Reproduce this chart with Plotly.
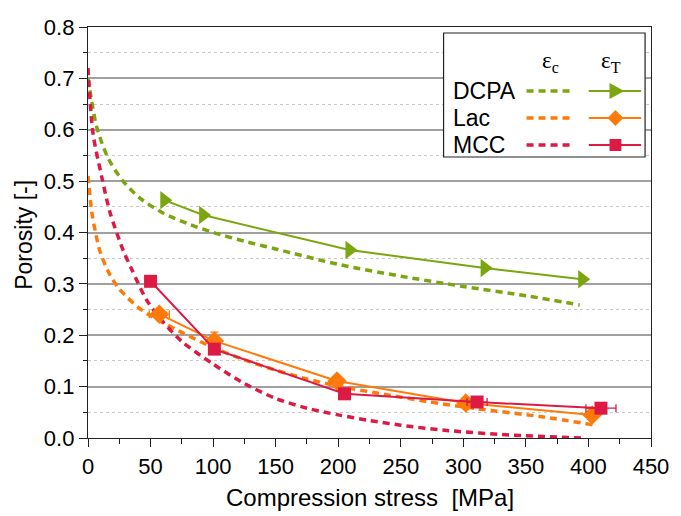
import plotly.graph_objects as go

# ---------------- data ----------------
dcpa_c_x = [0, 3, 7, 16, 28, 42, 60, 80, 100, 125, 150, 200, 250, 300, 350, 393]
dcpa_c_y = [0.70, 0.655, 0.605, 0.545, 0.500, 0.466, 0.438, 0.417, 0.400, 0.383, 0.368, 0.338, 0.315, 0.295, 0.277, 0.259]

lac_c_x = [0, 3, 6, 10, 17, 25, 43, 73, 100, 125, 150, 175, 200, 232, 271, 311, 364, 405]
lac_c_y = [0.51, 0.44, 0.40, 0.36, 0.32, 0.290, 0.249, 0.208, 0.176, 0.152, 0.132, 0.115, 0.101, 0.087, 0.071, 0.057, 0.041, 0.025]

mcc_c_x = [0, 4, 11, 17.5, 28, 35, 47, 60, 75, 100, 125, 150, 175, 200, 225, 250, 285, 337, 395]
mcc_c_y = [0.72, 0.593, 0.508, 0.440, 0.366, 0.328, 0.268, 0.226, 0.188, 0.144, 0.106, 0.077, 0.058, 0.045, 0.034, 0.025, 0.015, 0.006, 0.0]

dcpa_t_x = [61, 92, 209, 317, 395]
dcpa_t_y = [0.463, 0.434, 0.366, 0.331, 0.309]

lac_t_x = [57, 101, 199, 302, 403]
lac_t_y = [0.241, 0.189, 0.111, 0.068, 0.045]
lac_t_ex = [8, 3, 3, 3, 3]
lac_t_ey = [0.004, 0.017, 0.006, 0.005, 0.008]

mcc_t_x = [50, 101, 205, 311, 410]
mcc_t_y = [0.305, 0.173, 0.086, 0.070, 0.058]
mcc_t_ex = [2, 2, 3, 8, 12]
mcc_t_ey = [0.003, 0.004, 0.004, 0.004, 0.004]

x_ticks = [0, 50, 100, 150, 200, 250, 300, 350, 400, 450]
y_ticks = [0.0, 0.1, 0.2, 0.3, 0.4, 0.5, 0.6, 0.7, 0.8]

names = ["DCPA", "Lac", "MCC"]
colors = ["#7BA60F", "#FF7A0A", "#DC1A44"]
symbols = ["triangle-right", "diamond", "square"]

FONT = "Liberation Sans, Arial, sans-serif"

fig = go.Figure()

dash = "7px,5px"
for xs, ys, c in [(dcpa_c_x, dcpa_c_y, colors[0]), (lac_c_x, lac_c_y, colors[1]), (mcc_c_x, mcc_c_y, colors[2])]:
    fig.add_trace(go.Scatter(x=xs, y=ys, mode="lines", showlegend=False,
                             line=dict(color=c, width=3.5, dash=dash, shape="spline", smoothing=0.8)))

fig.add_trace(go.Scatter(x=dcpa_t_x, y=dcpa_t_y, mode="lines+markers", showlegend=False,
                         line=dict(color=colors[0], width=2),
                         marker=dict(symbol=symbols[0], size=16, color=colors[0])))
fig.add_trace(go.Scatter(x=lac_t_x, y=lac_t_y, mode="lines+markers", showlegend=False,
                         line=dict(color=colors[1], width=2),
                         marker=dict(symbol=symbols[1], size=15, color=colors[1]),
                         error_x=dict(type="data", array=lac_t_ex, color=colors[1], thickness=1.3, width=4),
                         error_y=dict(type="data", array=lac_t_ey, color=colors[1], thickness=1.3, width=4)))
fig.add_trace(go.Scatter(x=mcc_t_x, y=mcc_t_y, mode="lines+markers", showlegend=False,
                         line=dict(color=colors[2], width=2),
                         marker=dict(symbol=symbols[2], size=13, color=colors[2]),
                         error_x=dict(type="data", array=mcc_t_ex, color=colors[2], thickness=1.3, width=4),
                         error_y=dict(type="data", array=mcc_t_ey, color=colors[2], thickness=1.3, width=4)))

# ---------------- layout ----------------
L, R, T, B = 88, 23, 27, 78
W, H = 681, 516
PW, PH = W - L - R, H - T - B


def px(xp):
    return (xp - L) / PW


def py(yp):
    return (H - B - yp) / PH


shapes = []
annotations = []

# legend box
shapes.append(dict(type="rect", xref="paper", yref="paper", layer="above",
                   x0=px(448), x1=px(652), y0=py(157), y1=py(33),
                   fillcolor="white", line=dict(color="#222222", width=1.2)))

row_y = [91, 118, 145]
for i, (n, c, yy) in enumerate(zip(names, colors, row_y)):
    annotations.append(dict(xref="paper", yref="paper", x=px(456), y=py(yy), text=n,
                            showarrow=False, xanchor="left", yanchor="middle",
                            font=dict(family=FONT, size=23, color="black")))
    # dashed sample
    shapes.append(dict(type="line", xref="paper", yref="paper", layer="above",
                       x0=px(532), x1=px(580), y0=py(yy), y1=py(yy),
                       line=dict(color=c, width=3.5, dash=dash)))
    # solid sample
    shapes.append(dict(type="line", xref="paper", yref="paper", layer="above",
                       x0=px(595), x1=px(648), y0=py(yy), y1=py(yy),
                       line=dict(color=c, width=2)))
    cx, cy = 622, yy
    if i == 0:
        path = f"M {px(cx-6)} {py(cy-8)} L {px(cx+9)} {py(cy)} L {px(cx-6)} {py(cy+8)} Z"
    elif i == 1:
        path = f"M {px(cx)} {py(cy-8)} L {px(cx+8)} {py(cy)} L {px(cx)} {py(cy+8)} L {px(cx-8)} {py(cy)} Z"
    else:
        path = f"M {px(cx-6)} {py(cy-6)} L {px(cx+6)} {py(cy-6)} L {px(cx+6)} {py(cy+6)} L {px(cx-6)} {py(cy+6)} Z"
    shapes.append(dict(type="path", xref="paper", yref="paper", layer="above", path=path,
                       fillcolor=c, line=dict(color=c, width=0)))

annotations.append(dict(xref="paper", yref="paper", x=px(556), y=py(62),
                        text="ε<sub>c</sub>", showarrow=False, xanchor="center", yanchor="middle",
                        font=dict(family="Liberation Serif, Times New Roman, serif", size=23, color="black")))
annotations.append(dict(xref="paper", yref="paper", x=px(618), y=py(62),
                        text="ε<sub>T</sub>", showarrow=False, xanchor="center", yanchor="middle",
                        font=dict(family="Liberation Serif, Times New Roman, serif", size=23, color="black")))

# axis titles
annotations.append(dict(xref="paper", yref="paper", x=0.5, y=py(497),
                        text="Compression stress  [MPa]", showarrow=False,
                        xanchor="center", yanchor="middle",
                        font=dict(family=FONT, size=24, color="black")))
annotations.append(dict(xref="paper", yref="paper", x=px(23), y=py(235),
                        text="Porosity [-]", showarrow=False, textangle=-90,
                        xanchor="center", yanchor="middle",
                        font=dict(family=FONT, size=23, color="black")))

fig.update_layout(
    width=W, height=H,
    margin=dict(l=L, r=R, t=T, b=B, pad=0),
    paper_bgcolor="white", plot_bgcolor="white",
    showlegend=False,
    font=dict(family=FONT, size=21, color="black"),
    shapes=shapes, annotations=annotations,
    xaxis=dict(range=[0, 450], tickvals=x_ticks, ticktext=[str(v) for v in x_ticks],
               showgrid=False, zeroline=False,
               showline=True, linecolor="#222222", linewidth=1.3, mirror=True,
               ticks="outside", ticklen=8, tickcolor="#222222", tickwidth=1.3,
               minor=dict(dtick=25, tick0=0, ticks="outside", ticklen=5, tickcolor="#222222", tickwidth=1.2),
               tickfont=dict(family=FONT, size=22, color="black")),
    yaxis=dict(range=[0, 0.8], tickvals=y_ticks, ticktext=[f"{v:.1f}" for v in y_ticks],
               showgrid=True, gridcolor="#A0A0A0", gridwidth=1.5, zeroline=False,
               showline=True, linecolor="#222222", linewidth=1.3, mirror=True,
               ticks="outside", ticklen=8, tickcolor="#222222", tickwidth=1.3,
               minor=dict(dtick=0.05, tick0=0, ticks="outside", ticklen=4, tickcolor="#222222",
                          showgrid=True, gridcolor="#C8C8C8", griddash="dot", gridwidth=1.2),
               tickfont=dict(family=FONT, size=22, color="black")),
)

fig.write_html("out.html")
